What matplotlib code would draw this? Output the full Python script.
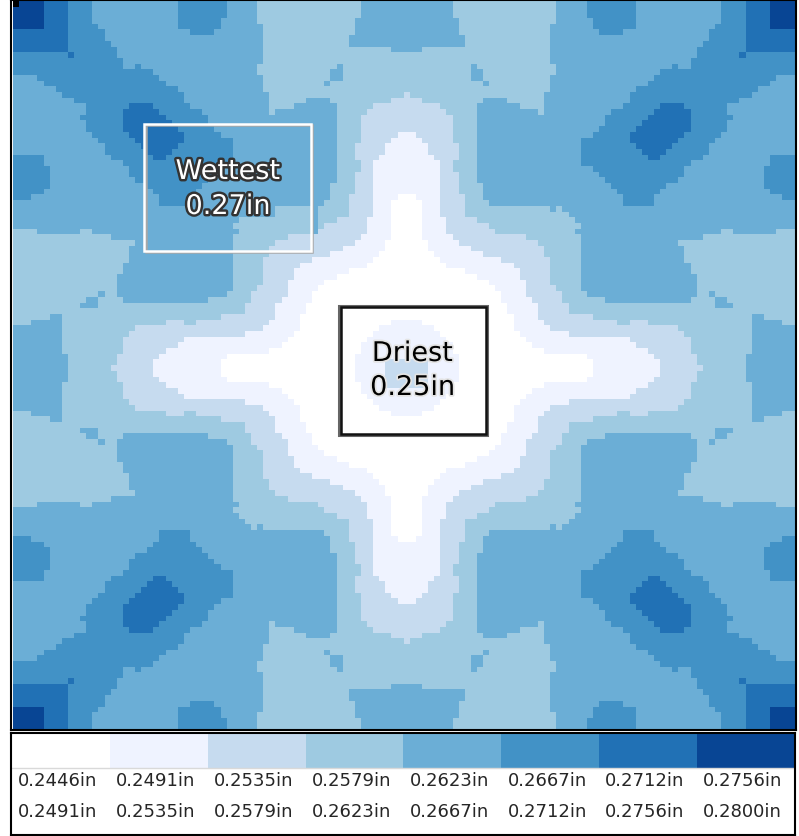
import matplotlib
matplotlib.use("Agg")
import matplotlib.pyplot as plt
import matplotlib.patheffects as pe
from matplotlib.colors import ListedColormap
from matplotlib.patches import Rectangle
import numpy as np

W, H = 799, 837

colors = ["#ffffff", "#eff3ff", "#c6dbef", "#9ecae1", "#6baed6", "#4292c6", "#2171b5", "#084594"]
low_labels = ["0.2446in", "0.2491in", "0.2535in", "0.2579in", "0.2623in", "0.2667in", "0.2712in", "0.2756in"]
high_labels = ["0.2491in", "0.2535in", "0.2579in", "0.2623in", "0.2667in", "0.2712in", "0.2756in", "0.2800in"]

# one quadrant of the map, one row per line, "class:end column"
quadrant = [
    "7:5 6:9 5:13 4:27 5:35 4:40 3:57 4:65",
    "7:5 6:9 5:13 4:27 5:35 4:40 3:57 4:65",
    "7:5 6:9 5:13 4:27 5:35 4:40 3:57 4:65",
    "7:5 6:9 5:13 4:27 5:34 4:40 3:56 4:65",
    "7:5 6:9 5:14 4:27 5:34 4:41 3:56 4:65",
    "6:9 5:15 4:29 5:33 4:41 3:56 4:65",
    "6:9 5:15 4:41 3:55 4:65",
    "6:9 5:16 4:41 3:55 4:65",
    "6:9 5:17 4:41 3:62 4:65",
    "5:9 6:10 5:17 4:41 3:65",
    "5:18 4:41 3:65",
    "5:18 4:20 5:21 4:40 3:53 4:54 3:65",
    "5:23 4:40 3:52 4:54 3:65",
    "4:4 5:24 4:41 3:52 4:54 3:65",
    "4:5 5:25 4:41 3:51 4:52 3:65",
    "4:7 5:27 4:41 3:65",
    "4:8 5:28 4:42 3:64 2:65",
    "4:10 5:28 4:42 3:48 4:52 3:62 2:65",
    "4:12 5:19 6:23 5:29 4:42 3:46 4:53 3:59 2:65",
    "4:12 5:18 6:24 5:31 4:42 3:43 4:53 3:58 2:65",
    "4:11 5:18 6:25 5:32 4:53 3:57 2:65",
    "4:12 5:18 6:26 5:32 4:53 3:57 2:65",
    "4:12 5:18 6:27 5:33 4:53 3:57 2:65",
    "4:13 5:19 6:28 5:34 4:53 3:57 2:63 1:65",
    "4:14 5:20 6:28 5:36 4:53 3:57 2:62 1:65",
    "4:15 5:21 6:27 5:36 4:53 3:56 2:61 1:65",
    "4:15 5:22 6:26 5:36 4:53 3:56 2:61 1:65",
    "5:5 4:16 5:23 6:25 5:36 4:53 3:56 2:60 1:65",
    "5:5 4:18 5:36 4:53 3:57 2:59 1:65",
    "5:6 4:19 5:34 4:53 3:57 2:59 1:65",
    "5:6 4:19 5:33 4:53 3:56 2:59 1:65",
    "5:6 4:20 5:32 4:53 3:56 2:59 1:65",
    "5:6 4:22 5:31 4:52 3:56 2:59 1:65",
    "5:5 4:23 5:30 4:52 3:56 2:59 1:65",
    "5:3 4:24 5:29 4:52 3:55 2:59 1:63 0:65",
    "4:24 5:29 4:51 3:55 2:59 1:62 0:65",
    "4:39 3:40 4:41 3:55 2:59 1:62 0:65",
    "4:38 3:55 2:59 1:62 0:65",
    "4:37 3:53 2:58 1:62 0:65",
    "4:36 3:51 2:58 1:62 0:65",
    "3:4 4:11 3:13 4:37 3:50 2:58 1:62 0:65",
    "3:16 4:36 3:45 2:57 1:62 0:65",
    "3:20 4:36 3:43 2:56 1:61 0:65",
    "3:19 4:36 3:42 2:54 1:61 0:65",
    "3:19 4:36 3:42 2:52 1:60 0:65",
    "3:19 4:36 3:41 2:49 1:59 0:65",
    "3:18 4:36 3:41 2:47 1:58 0:65",
    "3:18 4:36 3:41 2:46 1:55 0:65",
    "3:17 4:36 3:41 2:46 1:53 0:65",
    "3:17 4:36 3:41 2:45 1:51 0:65",
    "3:17 4:36 3:40 2:45 1:50 0:65",
    "3:14 4:15 3:17 4:35 3:39 2:45 1:49 0:65",
    "3:12 4:14 3:18 4:32 3:39 2:44 1:49 0:65",
    "3:11 4:14 3:38 2:43 1:48 0:65",
    "3:38 2:43 1:48 0:65",
    "3:6 4:8 3:34 2:43 1:47 0:65",
    "3:3 4:8 3:25 2:28 3:30 2:42 1:47 0:62 1:65",
    "4:8 3:20 2:41 1:47 0:60 1:65",
    "4:8 3:19 2:38 1:46 0:59 1:65",
    "4:8 3:18 2:28 1:45 0:58 1:65",
    "4:8 3:18 2:27 1:44 0:57 1:65",
    "4:8 3:18 2:25 1:42 0:57 1:65",
    "4:9 3:17 2:24 1:35 0:56 1:65",
    "4:9 3:17 2:23 1:34 0:56 1:65",
    "4:9 3:16 2:23 1:34 0:56 1:65",
]

# rows 36 to 40 are a bit different in the top left quadrant only
top_left_rows = [
    "4:43 3:49 4:50 3:55 2:59 1:62 0:65",
    "4:43 3:49 4:50 3:55 2:59 1:62 0:65",
    "4:37 3:49 4:50 3:53 2:58 1:62 0:65",
    "4:36 3:49 4:50 3:51 2:58 1:62 0:65",
    "3:4 4:11 3:13 4:37 3:49 4:50 2:58 1:62 0:65",
]

def expand(line):
    row, start = [], 0
    for run in line.split():
        k, end = map(int, run.split(":"))
        row += [k] * (end - start)
        start = end
    return row

half = np.array([expand(line) for line in quadrant])
top = np.hstack([half, half[:, -2::-1]])
grid = np.vstack([top, top[-2::-1]])
grid[36:41, :65] = [expand(line) for line in top_left_rows]
grid[63:68, 61:68] = 2  # middle of the driest box

def box(left, top, right, bottom):
    return [left / W, 1 - bottom / H, (right - left) / W, (bottom - top) / H]

fig = plt.figure(figsize = (W / 100, H / 100), dpi = 100)

# map, 129 cells clipped a little on the right and bottom
ax = fig.add_axes(box(11, 1, 796, 731))
ax.imshow(grid, cmap = ListedColormap(colors), vmin = -0.5, vmax = 7.5, aspect = "auto", interpolation = "nearest")
ax.set_xlim((11 - 12.6) / 6.1 - 0.5, (796 - 12.6) / 6.1 - 0.5)
ax.set_ylim((731 - 2) / 5.69 - 0.5, (1 - 2) / 5.69 - 0.5)
ax.set_xticks([]); ax.set_yticks([])
for s in ax.spines.values(): s.set_linewidth(1.5)
ax.add_patch(Rectangle((-0.5, -0.5), 1, 1, color = "black", lw = 0))

# annotation boxes, in pixels of the figure
def frame(x0, y0, x1, y1, color, lw):
    fig.add_artist(Rectangle((x0 / W, 1 - y1 / H), (x1 - x0) / W, (y1 - y0) / H, fill = False,
                             edgecolor = color, lw = lw, transform = fig.transFigure, joinstyle = "miter"))

frame(145.5, 126, 312, 253, "#a8a8a8", 1.8)
frame(143.5, 124.5, 310.5, 252, "white", 1.8)
frame(338.5, 306.5, 487, 436, "#666666", 2.2)
frame(340.5, 308, 485.5, 434.5, "#111111", 1.8)

def label(x, y, text, fill, edge, width):
    fig.text(x / W, 1 - y / H, text, color = fill, fontsize = 19.5, ha = "center", va = "center",
             path_effects = [pe.withStroke(linewidth = width, foreground = edge)])

label(228, 173, "Wettest", "white", "#333333", 3.5)
label(228, 208, "0.27in", "white", "#333333", 3.5)
label(412.5, 355, "Driest", "black", "#e4e4e4", 2.5)
label(412.5, 389, "0.25in", "black", "#e4e4e4", 2.5)

# legend
lg = fig.add_axes(box(11, 734, 795, 836))
lg.set_xlim(-0.01, 8)
lg.set_ylim(102, 0)
lg.bar(range(8), 33.5, width = 1, bottom = 1, align = "edge", color = colors)
lg.axhline(35, color = "#d9d9d9", lw = 1)
lg.set_xticks([]); lg.set_yticks([])
for s in lg.spines.values(): s.set_linewidth(1.5)
for i in range(8):
    lg.text(i + 0.062, 47.5, low_labels[i], fontsize = 13, va = "center", ha = "left", color = "#262626")
    lg.text(i + 0.062, 78.5, high_labels[i], fontsize = 13, va = "center", ha = "left", color = "#262626")

fig.savefig("out.png", dpi = 100)
